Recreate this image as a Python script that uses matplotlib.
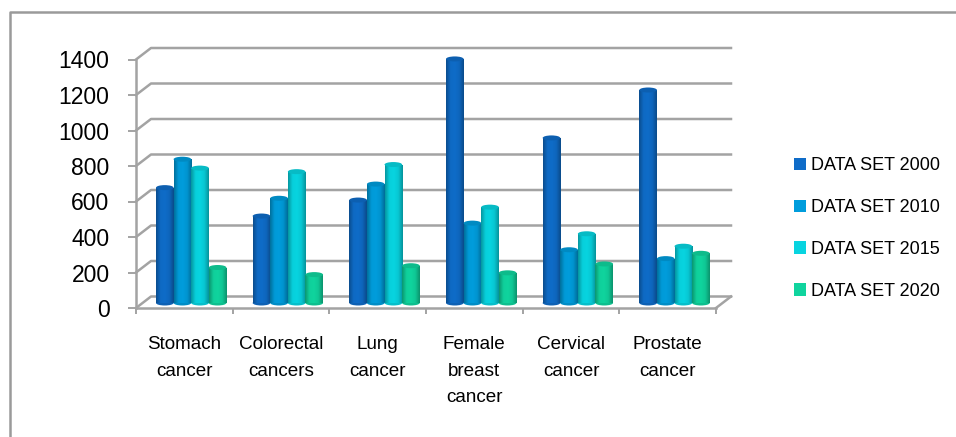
import numpy as np
import matplotlib
matplotlib.use('Agg')
import matplotlib.pyplot as plt
from matplotlib.colors import LinearSegmentedColormap, to_rgb
from matplotlib.lines import Line2D
from matplotlib.patches import Ellipse, Patch

categories = ['Stomach\ncancer', 'Colorectal\ncancers', 'Lung\ncancer',
              'Female\nbreast\ncancer', 'Cervical\ncancer', 'Prostate\ncancer']
series_names = ['DATA SET 2000', 'DATA SET 2010', 'DATA SET 2015', 'DATA SET 2020']
data_2000 = [650, 490, 580, 1375, 930, 1200]
data_2010 = [810, 590, 670, 450, 300, 250]
data_2015 = [760, 740, 780, 540, 390, 320]
data_2020 = [200, 160, 210, 170, 220, 280]
y_ticks = [0, 200, 400, 600, 800, 1000, 1200, 1400]
colors = ['#0F6CC8', '#009DDC', '#08D4E0', '#10D49E']
grid_color = '#A3A3A3'

plt.rcParams['font.family'] = ['Liberation Sans', 'DejaVu Sans']

W, H = 956, 437
fig = plt.figure(figsize=(W / 100, H / 100), dpi=100)
ax = fig.add_axes([136 / W, 1 - 308 / H, 580 / W, 248.5 / H])
ax.set_xlim(0, 6)
ax.set_ylim(0, 1400)
ax.set_autoscale_on(False)

# size of one pixel in data units, used for the fake 3d depth
px_x = 6 / 580
px_y = 1400 / 248.5
depth_x = 15 * px_x
depth_y = 11.5 * px_y

# walls and floor
for v in y_ticks:
    ax.plot([0, depth_x, 6 + depth_x], [v, v + depth_y, v + depth_y],
            color=grid_color, lw=1.8, clip_on=False, zorder=1)
ax.plot([6, 6 + depth_x], [0, depth_y], color=grid_color, lw=1.8, clip_on=False, zorder=1)

# cylinders
bar_w = 17.6 * px_x
base = 5 * px_y
start = 20 * px_x
all_series = [data_2000, data_2010, data_2015, data_2020]
for s, (vals, col) in enumerate(zip(all_series, colors)):
    rgb = np.array(to_rgb(col))
    cmap = LinearSegmentedColormap.from_list(
        'cyl', [rgb * 0.72, rgb * 0.98, rgb, rgb * 0.94, rgb * 0.7])
    xs = np.arange(6) + start + s * bar_w
    bars = ax.bar(xs, vals, bar_w, bottom=base, align='edge', color=col, zorder=3 + s, clip_on=False)
    for b, x, v in zip(bars, xs, vals):
        e_h = 5 * px_y
        ax.add_patch(Ellipse((x + bar_w / 2, base), bar_w, e_h, color=rgb * 0.9, lw=0,
                             zorder=3 + s, clip_on=False))
        im = ax.imshow(np.linspace(0, 1, 32).reshape(1, -1), cmap=cmap, aspect='auto',
                       extent=(x, x + bar_w, base, base + v), zorder=3 + s)
        im.set_clip_box(fig.bbox)
        im.set_clip_path(b)
        ax.add_patch(Ellipse((x + bar_w / 2, base + v), bar_w, e_h, color=rgb * 0.88, lw=0,
                             zorder=3 + s, clip_on=False))
ax.set_xlim(0, 6)
ax.set_ylim(0, 1400)

# axes
for side in ['top', 'right']:
    ax.spines[side].set_visible(False)
for side in ['left', 'bottom']:
    ax.spines[side].set_color(grid_color)
    ax.spines[side].set_linewidth(1.8)
ax.patch.set_alpha(0)

ax.set_yticks(y_ticks)
ax.tick_params(axis='y', length=6, width=1.4, color=grid_color, labelsize=16.5, pad=13, labelcolor='black')
ax.set_xticks(range(7))
ax.set_xticklabels([])
ax.tick_params(axis='x', which='major', length=4.5, width=1.4, color=grid_color)
ax.set_xticks(np.arange(6) + 0.5, minor=True)
ax.set_xticklabels(categories, minor=True, fontsize=13.6, linespacing=1.72)
ax.tick_params(axis='x', which='minor', length=0, pad=20.5)

# legend
handles = [Patch(facecolor=c, edgecolor='none', label=n) for c, n in zip(colors, series_names)]
fig.legend(handles=handles, loc='center left', bbox_to_anchor=(794 / W, 1 - 228.5 / H),
           frameon=False, fontsize=13, handlelength=0.67, handleheight=0.67,
           handletextpad=0.25, labelspacing=1.38, borderpad=0, borderaxespad=0)

# outer frame, open at right and bottom
fig.add_artist(Line2D([9.5 / W, 9.5 / W, 1], [0, 1 - 12 / H, 1 - 12 / H],
                      color='#9A9A9A', lw=1.8, transform=fig.transFigure))

fig.savefig('out.png', dpi=100)
